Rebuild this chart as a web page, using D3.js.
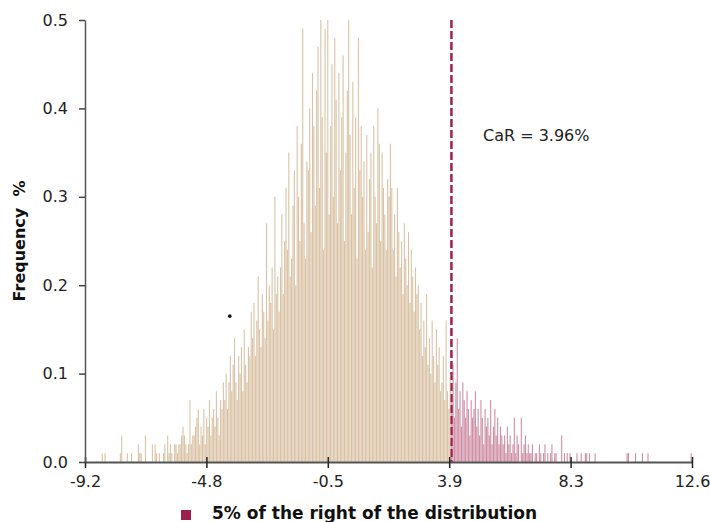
<!DOCTYPE html>
<html>
<head>
<meta charset="utf-8">
<script src="https://cdn.jsdelivr.net/npm/d3@7"></script>
<style>
  html, body { margin: 0; padding: 0; background: #fff; }
  svg { display: block; }
  text { font-family: "DejaVu Sans", sans-serif; }
</style>
</head>
<body>
<svg id="chart" width="710" height="522"></svg>
<script>
// ---- data ----
const binStart = -9.2;
const binWidth = 0.05;
// Frequency (%) for each 0.05-wide bin, from -9.2 to 12.6 (20 bins per unit)
const frequency = [
  0,0,0,0,0,0,0,0,0,0,0,0,.01,0,.01,0,0,0,0,0,
  0,0,0,0,0,.01,.03,0,0,0,.01,0,0,.01,0,0,0,0,.02,.01,
  .01,0,0,.03,0,0,0,0,.02,0,.02,.01,0,.01,0,0,.01,.02,0,.03,
  .01,.02,.01,0,.02,.02,.01,.02,.02,.03,.04,.03,.02,.01,.02,.07,.02,.03,.03,.04,
  .05,.06,.02,.04,.03,.06,.02,.05,.04,.07,.03,.05,.06,.04,.08,.05,.03,.07,.06,.09,
  .07,.10,.06,.09,.12,.08,.11,.14,.09,.07,.12,.10,.13,.08,.15,.11,.09,.13,.12,.17,
  .14,.18,.12,.16,.21,.15,.13,.19,.17,.14,.27,.16,.20,.18,.22,.15,.30,.19,.21,.17,
  .22,.28,.19,.25,.31,.24,.35,.21,.23,.29,.33,.20,.38,.30,.25,.36,.49,.27,.23,.34,
  .33,.40,.26,.44,.38,.29,.42,.47,.31,.50,.39,.24,.49,.35,.50,.28,.38,.45,.30,.48,
  .41,.27,.44,.33,.39,.46,.25,.35,.42,.50,.37,.28,.43,.31,.39,.23,.48,.33,.38,.30,
  .34,.24,.37,.26,.32,.35,.22,.38,.30,.27,.40,.36,.25,.35,.31,.28,.24,.32,.30,.36,
  .31,.24,.28,.21,.31,.26,.22,.25,.19,.27,.23,.20,.26,.18,.24,.21,.17,.22,.19,.20,
  .15,.18,.12,.16,.13,.19,.11,.14,.10,.16,.12,.09,.15,.11,.13,.08,.09,.12,.07,.16,
  .08,.06,.10,.07,.11,.05,.09,.14,.06,.08,.04,.09,.07,.05,.08,.06,.03,.07,.05,.06,
  .08,.04,.06,.03,.07,.05,.02,.06,.04,.05,.03,.07,.02,.04,.06,.03,.05,.02,.04,.03,
  .02,.03,.01,.04,.02,.03,.01,.02,.05,.01,.03,.02,0,.05,.01,.02,.03,.01,.02,.01,
  .01,.02,0,.01,.01,0,.02,.01,0,.01,.02,0,.01,0,.01,.02,0,.01,.01,0,
  0,0,.03,0,.01,0,.01,0,.01,0,0,0,0,.01,0,0,.01,0,0,.01,
  .01,0,.01,0,0,0,.01,0,0,0,0,0,0,0,0,0,0,0,0,0,
  0,0,0,0,0,0,0,0,0,.01,.01,0,0,0,0,.01,0,0,0,0,
  .01,0,0,0,.01,0,0,0,0,0,0,0,0,0,0,0,0,0,0,0,
  0,0,0,0,0,0,0,0,0,0,0,0,0,0,0,.01
];
const carValue = 3.96;
const carLabel = "CaR = 3.96%";
const xTickValues = [-9.2, -4.84, -0.48, 3.88, 8.24, 12.6];
const xTickLabels = ["-9.2", "-4.8", "-0.5", "3.9", "8.3", "12.6"];
const yTickValues = [0, 0.1, 0.2, 0.3, 0.4, 0.5];
const yTickLabels = ["0.0", "0.1", "0.2", "0.3", "0.4", "0.5"];
const strayPoint = [{x: -4.0, y: 0.165}];
const legendLabel = "5% of the right of the distribution";
const yAxisTitle = "Frequency\u00A0\u00A0%";

// ---- chart ----
const svg = d3.select("#chart");
const x = d3.scaleLinear().domain([-9.2, 12.6]).range([85, 692]);
const y = d3.scaleLinear().domain([0, 0.5]).range([462, 20]);

const bins = frequency.map((f, i) => ({x0: binStart + i * binWidth, x1: binStart + (i + 1) * binWidth, f}));

// CaR dashed line (behind bars)
svg.append("line")
  .attr("x1", x(carValue)).attr("x2", x(carValue))
  .attr("y1", y(0.5)).attr("y2", y(0))
  .attr("stroke", "#a3204e").attr("stroke-width", 2.5)
  .attr("stroke-dasharray", "8,3");

svg.append("g").selectAll("rect")
  .data(bins.filter(d => d.f > 0))
  .join("rect")
  .attr("x", d => x(d.x0))
  .attr("width", d => Math.max(0.6, x(d.x1) - x(d.x0) - 0.3))
  .attr("y", d => y(d.f))
  .attr("height", d => y(0) - y(d.f))
  .attr("fill", d => (d.x0 + d.x1) / 2 > carValue ? "#a01e4c" : "#c49c6c")
  .attr("fill-opacity", d => (d.x0 + d.x1) / 2 > carValue ? 0.5 : 0.62);

// Axes
const xAxis = d3.axisBottom(x).tickValues(xTickValues)
  .tickFormat((d, i) => xTickLabels[i]).tickSizeInner(10).tickSizeOuter(0).tickPadding(0);
const gx = svg.append("g").attr("transform", `translate(0,${y(0)})`).call(xAxis);
gx.select(".domain").attr("stroke", "#555").attr("stroke-width", 2);
gx.selectAll(".tick line").attr("stroke", "#222").attr("stroke-width", 1.5).attr("y1", -5).attr("y2", 6);
gx.selectAll(".tick text").attr("font-size", 16).attr("fill", "#222")
  .attr("font-family", "DejaVu Sans, sans-serif").attr("dy", "0.95em");

const yAxis = d3.axisLeft(y).tickValues(yTickValues)
  .tickFormat((d, i) => yTickLabels[i]).tickSizeInner(6).tickSizeOuter(0).tickPadding(11);
const gy = svg.append("g").attr("transform", `translate(${x(-9.2)},0)`).call(yAxis);
gy.select(".domain").attr("stroke", "#555").attr("stroke-width", 1.5);
gy.selectAll(".tick line").attr("stroke", "#444").attr("stroke-width", 1.5);
gy.selectAll(".tick text").attr("font-size", 16).attr("fill", "#222")
  .attr("font-family", "DejaVu Sans, sans-serif");

// Y axis title
svg.append("text")
  .attr("transform", `translate(25,${(y(0) + y(0.5)) / 2}) rotate(-90)`)
  .attr("text-anchor", "middle")
  .attr("font-size", 16).attr("font-weight", "bold").attr("fill", "#111")
  .text(yAxisTitle);

// CaR label
svg.append("text")
  .attr("x", 483).attr("y", y(0.4) + 33)
  .attr("font-size", 16).attr("fill", "#222")
  .text(carLabel);

// stray point
svg.selectAll("circle.pt").data(strayPoint).join("circle")
  .attr("class", "pt")
  .attr("cx", d => x(d.x)).attr("cy", d => y(d.y)).attr("r", 1.8).attr("fill", "#111");

// Legend
const lg = svg.append("g");
lg.append("rect").attr("x", 181).attr("y", 510).attr("width", 10).attr("height", 10).attr("fill", "#9d1f4b");
lg.append("text").attr("x", 212).attr("y", 519)
  .attr("font-size", 17).attr("font-weight", "bold").attr("fill", "#111")
  .text(legendLabel);
</script>
</body>
</html>
